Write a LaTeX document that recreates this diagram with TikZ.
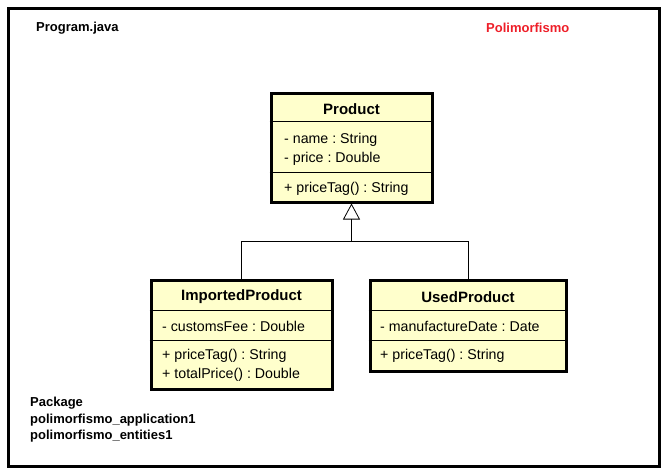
\documentclass[tikz,border=0pt]{standalone}
\usepackage{fontspec}
\setmainfont{Liberation Sans}
\usepackage{tikz}
\usetikzlibrary{arrows.meta,shapes,backgrounds}
\definecolor{classfill}{RGB}{255,255,204}
\definecolor{titlered}{RGB}{238,30,40}
\frenchspacing

\begin{document}
\begin{tikzpicture}[x=1pt, y=-1pt]
	  \tikzstyle{classbox} = [draw, line width=3pt, fill=classfill, inner sep=0pt]
	  \tikzstyle{title} = [yshift=-1pt, font=\fontsize{15}{17}\selectfont\bfseries]
	  \tikzstyle{member} = [anchor=west, yshift=-1.5pt, inner sep=0pt, font=\fontsize{14.2}{16}\selectfont]
	  \tikzstyle{note} = [anchor=west, yshift=-1pt, inner sep=0pt, font=\fontsize{13}{15}\selectfont\bfseries]
	  \tikzstyle{divider} = [line width=0.8pt]
	  \useasboundingbox (0,0) rectangle (665,474);
	  \draw[line width=3pt] (8,8) rectangle (659,466);
	  % header and package texts
	  \node[note] (program) at (36,27) {Program.java};
	  \node[note, text=titlered] (topic) at (486,27) {Polimorfismo};
	  \node[note] (pkg1) at (30,402) {Package};
	  \node[note] (pkg2) at (30,419) {polimorfismo\_application1};
	  \node[note] (pkg3) at (30,435) {polimorfismo\_entities1};
	  % classes
	  \node[classbox, minimum width=161pt, minimum height=109pt] (prod) at (351.5,147.5) {};
	  \node[title] (prodname) at (351.5,108) {Product};
	  \draw[divider] (prod.west |- 0,121) -- (prod.east |- 0,121);
	  \node[member] (prodattr1) at (284,138) {- name : String};
	  \node[member] (prodattr2) at (284,157) {- price : Double};
	  \draw[divider] (prod.west |- 0,172) -- (prod.east |- 0,172);
	  \node[member] (prodop1) at (284,187) {+ priceTag() : String};

	  \node[classbox, minimum width=181pt, minimum height=109pt] (imp) at (241.5,334.5) {};
	  \node[title] (impname) at (241.5,296) {ImportedProduct};
	  \draw[divider] (imp.west |- 0,310) -- (imp.east |- 0,310);
	  \node[member] (impattr1) at (162,325) {- customsFee : Double};
	  \draw[divider] (imp.west |- 0,340) -- (imp.east |- 0,340);
	  \node[member] (impop1) at (162,354) {+ priceTag() : String};
	  \node[member] (impop2) at (162,373) {+ totalPrice() : Double};

	  \node[classbox, minimum width=196pt, minimum height=91pt] (used) at (468,325.5) {};
	  \node[title] (usedname) at (468,296) {UsedProduct};
	  \draw[divider] (used.west |- 0,310) -- (used.east |- 0,310);
	  \node[member] (usedattr1) at (380,325) {- manufactureDate : Date};
	  \draw[divider] (used.west |- 0,340) -- (used.east |- 0,340);
	  \node[member] (usedop1) at (380,354) {+ priceTag() : String};
	  % inheritance
	  \coordinate (fork) at (351.5,241);
	  \draw[line width=0.8pt] (imp.north) |- (fork);
	  \draw[line width=0.8pt] (used.north) |- (fork);
	  \draw[line width=0.8pt, -{Triangle[open, length=16pt, width=17pt]}] (fork) -- (prod.south);
	\end{tikzpicture}
\end{document}
